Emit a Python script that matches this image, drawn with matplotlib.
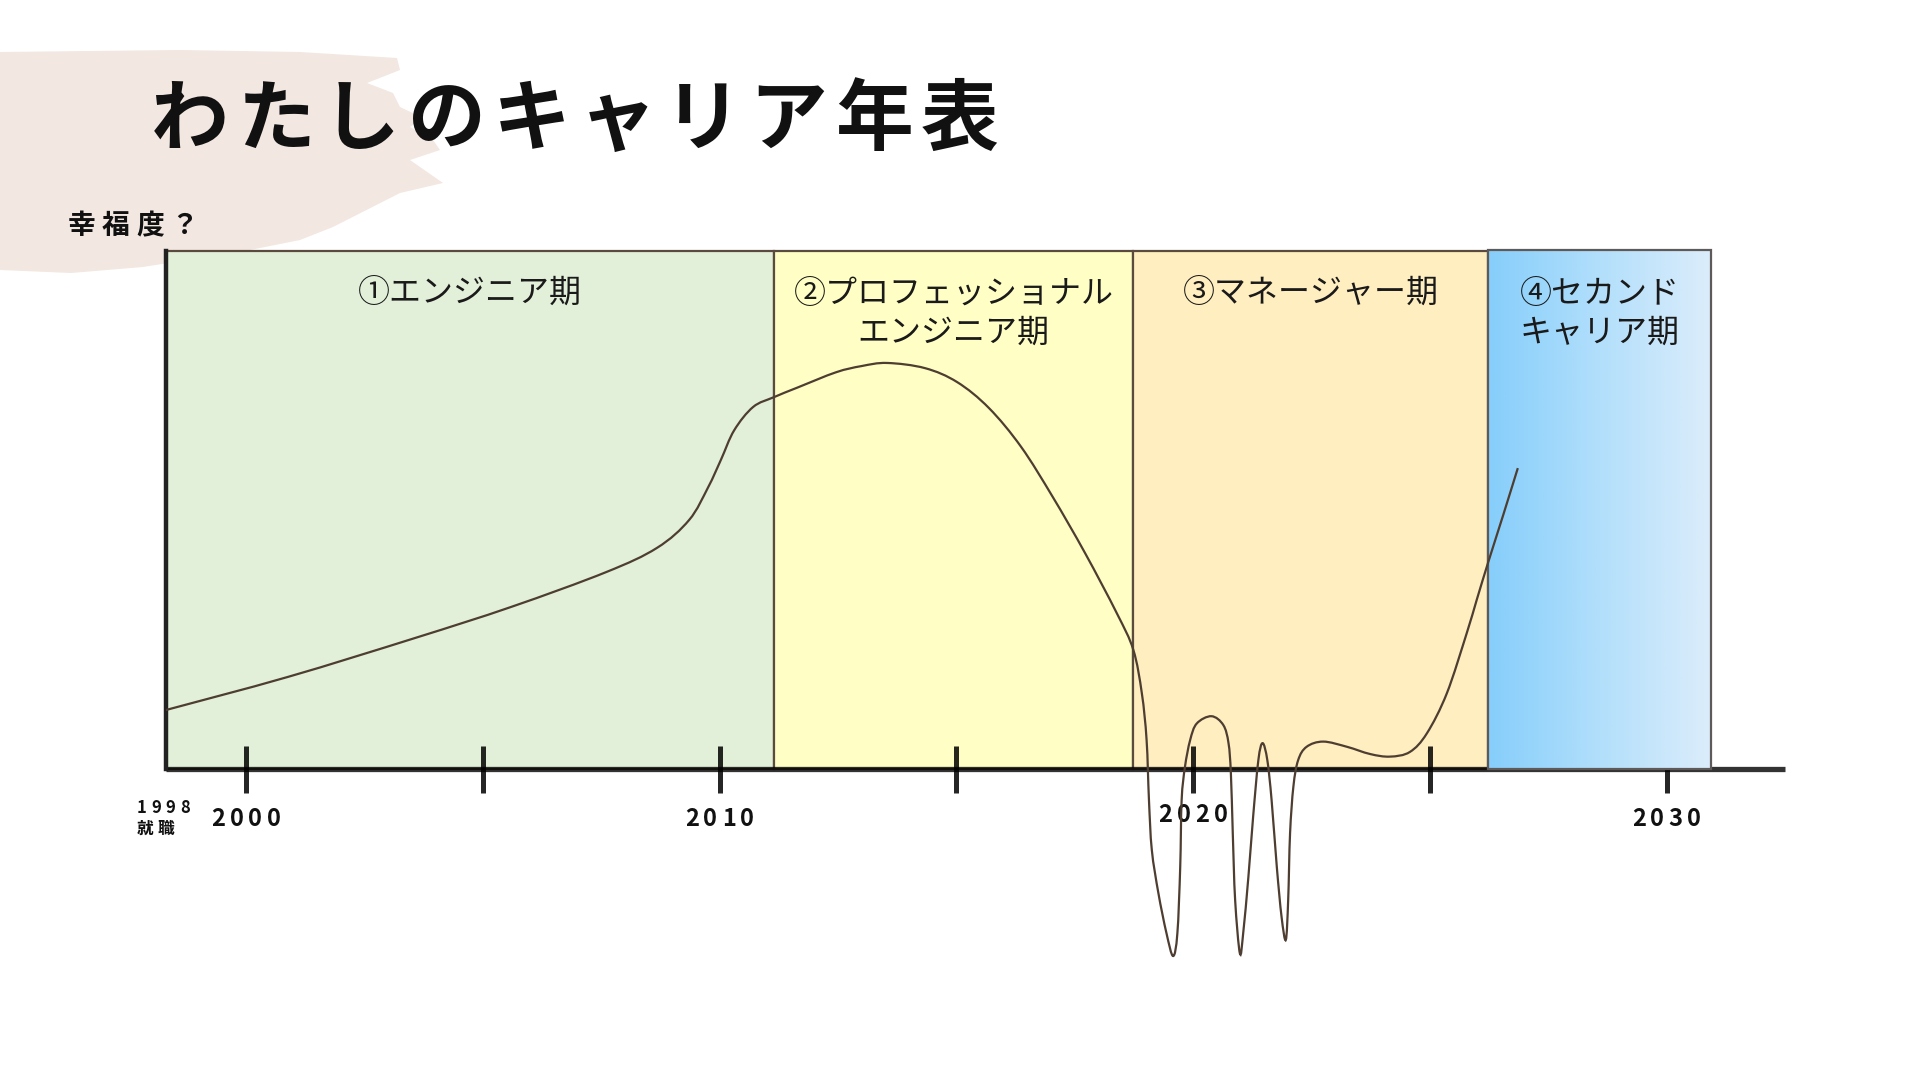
import numpy as np
import matplotlib.pyplot as plt
from matplotlib.patches import Rectangle, Polygon, PathPatch
from matplotlib.path import Path
from matplotlib.colors import LinearSegmentedColormap

plt.rcParams['font.family'] = ['Noto Sans CJK JP', 'DejaVu Sans']

# --- data ---
title = "わたしのキャリア年表"
y_label = "幸福度？"

era_labels = ["①エンジニア期", "②プロフェッショナル\nエンジニア期",
              "③マネージャー期", "④セカンド\nキャリア期"]
era_start = [1998.3, 2011.15, 2018.74, 2026.23]
era_end = [2011.15, 2018.74, 2026.23, 2030.94]
era_colors = ["#E2F0D9", "#FFFFC5", "#FFEEC0"]

tick_years = [2000, 2005, 2010, 2015, 2020, 2025, 2030]
tick_labels = ["2000", "", "2010", "", "2020", "", "2030"]
start_year_label = ["1998", "就職"]

# happiness curve (year, value) ; baseline = 0, box top = 10
year = [1998.31, 2000.89, 2003.57, 2005.60, 2007.60, 2008.68, 2009.36, 2009.76,
        2010.03, 2010.31, 2010.71, 2011.15, 2011.66, 2012.46, 2013.00, 2013.54,
        2014.34, 2015.02, 2015.69, 2016.37, 2017.04, 2017.72, 2018.39, 2018.74,
        2018.92, 2019.02, 2019.07, 2019.13, 2019.27, 2019.44, 2019.58, 2019.67,
        2019.73, 2019.76, 2019.83, 2019.94, 2020.08, 2020.39, 2020.64, 2020.75,
        2020.80, 2020.84, 2020.89, 2020.99, 2021.06, 2021.17, 2021.27, 2021.38,
        2021.47, 2021.57, 2021.66, 2021.77, 2021.87, 2021.96, 2022.01, 2022.05,
        2022.12, 2022.22, 2022.40, 2022.75, 2023.25, 2023.74, 2024.16, 2024.58,
        2024.94, 2025.36, 2025.78, 2025.99, 2026.23, 2026.55, 2026.86]
happy = [1.14, 1.78, 2.53, 3.13, 3.80, 4.27, 4.81, 5.44,
         5.97, 6.54, 6.99, 7.18, 7.37, 7.66, 7.78, 7.84,
         7.74, 7.47, 6.97, 6.22, 5.25, 4.17, 3.01, 2.30,
         1.46, 0.56, -0.60, -1.56, -2.40, -3.17, -3.61, -3.17,
         -1.89, -0.60, 0.04, 0.56, 0.88, 1.02, 0.85, 0.50,
         -0.08, -1.24, -2.53, -3.56, -3.17, -2.08, -0.92, 0.17,
         0.50, 0.17, -0.60, -1.89, -2.85, -3.30, -2.53, -1.24,
         -0.34, 0.17, 0.43, 0.53, 0.43, 0.29, 0.24, 0.33,
         0.69, 1.46, 2.62, 3.26, 3.98, 4.90, 5.81]


def smooth_path(xs, ys):
    # Catmull-Rom through the points, drawn as cubic Bezier segments
    p = np.column_stack([xs, ys])
    verts = [p[0]]
    codes = [Path.MOVETO]
    for i in range(len(p) - 1):
        p0 = p[i - 1] if i > 0 else p[i]
        p3 = p[i + 2] if i + 2 < len(p) else p[i + 1]
        c1 = p[i] + (p[i + 1] - p0) / 6
        c2 = p[i + 1] - (p3 - p[i]) / 6
        verts += [c1, c2, p[i + 1]]
        codes += [Path.CURVE4] * 3
    return Path(verts, codes)


fig = plt.figure(figsize=(19.2, 10.8), dpi=100)

# background layer in pixel coordinates
bg = fig.add_axes([0, 0, 1, 1])
bg.set_xlim(0, 1920)
bg.set_ylim(1080, 0)
bg.axis('off')

brush = [(0, 52), (180, 50), (300, 52), (397, 58), (400, 70), (367, 83),
         (393, 93), (400, 107), (423, 118), (410, 127), (433, 140), (440, 150),
         (410, 160), (443, 183), (400, 193), (333, 227), (300, 240),
         (250, 250), (143, 267), (71, 273), (0, 270)]
bg.add_patch(Polygon(brush, closed=True, facecolor="#F2E7E1", edgecolor="none"))

for i, ch in enumerate(title):
    bg.text(190 + i * 85.5, 121, ch, fontsize=56, fontweight='bold',
            ha='center', va='center', color='#111111')
for i, ch in enumerate(y_label):
    bg.text(82 + i * 34, 226, ch, fontsize=20, fontweight='bold',
            ha='center', va='center', color='#111111')

# chart layer in data coordinates
ax = fig.add_axes([9.25 / 1920, 0.0721, 1894 / 1920, 0.7194])
ax.patch.set_alpha(0)

edge = "#5b4b3f"
for x0, x1, c in zip(era_start[:3], era_end[:3], era_colors):
    ax.add_patch(Rectangle((x0, 0), x1 - x0, 10, facecolor=c, edgecolor=edge,
                           linewidth=1.6, zorder=2))

# 4th era: gradient box
blue = LinearSegmentedColormap.from_list("b", ["#86CEFB", "#B2DFFB", "#DCEDFB"])
ax.imshow(np.linspace(0, 1, 256)[None, :], cmap=blue, aspect='auto',
          extent=[era_start[3], era_end[3], 0, 10.03], zorder=4)
ax.add_patch(Rectangle((era_start[3], 0), era_end[3] - era_start[3], 10.03,
                       facecolor='none', edgecolor="#5f5a5a", linewidth=1.6,
                       zorder=4.5))

# base line, y line and ticks
ax.plot([1998.3, 2032.5], [0, 0], color='black', lw=3.8, alpha=0.8,
        solid_capstyle='butt', zorder=3)
ax.plot([1998.3, 1998.3], [0, 10], color='#222222', lw=3.2, zorder=3)
ax.vlines(tick_years, -0.46, 0.44, color='black', lw=3.6, alpha=0.85, zorder=3)

for yr, lab in zip(tick_years, tick_labels):
    yy = -0.89 if yr == 2020 else -0.965
    for i, ch in enumerate(lab):
        ax.annotate(ch, xy=(yr, yy), xytext=((i - 1.5) * 18.5, 0),
                    textcoords='offset pixels', fontsize=17, fontweight='bold',
                    ha='center', va='center', color='#111111')

for i, ch in enumerate(start_year_label[0]):
    ax.annotate(ch, xy=(1998.3, -0.75), xytext=((i - 1.5) * 14.5 - 2, 0),
                textcoords='offset pixels', fontsize=12, fontweight='bold',
                ha='center', va='center', color='#111111')
for i, ch in enumerate(start_year_label[1]):
    ax.annotate(ch, xy=(1998.3, -1.16), xytext=((i - 0.5) * 21 - 10, 0),
                textcoords='offset pixels', fontsize=12, fontweight='bold',
                ha='center', va='center', color='#111111')

# era labels
for x0, x1, lab in zip(era_start, era_end, era_labels):
    yy = 9.2 if "\n" not in lab else 8.8
    ax.text((x0 + x1) / 2, yy, lab, fontsize=23, ha='center', va='center',
            linespacing=1.25, color='#1a1a1a', zorder=7)

ax.add_patch(PathPatch(smooth_path(year, happy), facecolor='none',
                       edgecolor='#4e3d31', lw=1.6, zorder=6))

ax.set_xlim(1995, 2035)
ax.set_ylim(-4.5, 10.5)
ax.axis('off')

fig.savefig("out.png", dpi=100)
